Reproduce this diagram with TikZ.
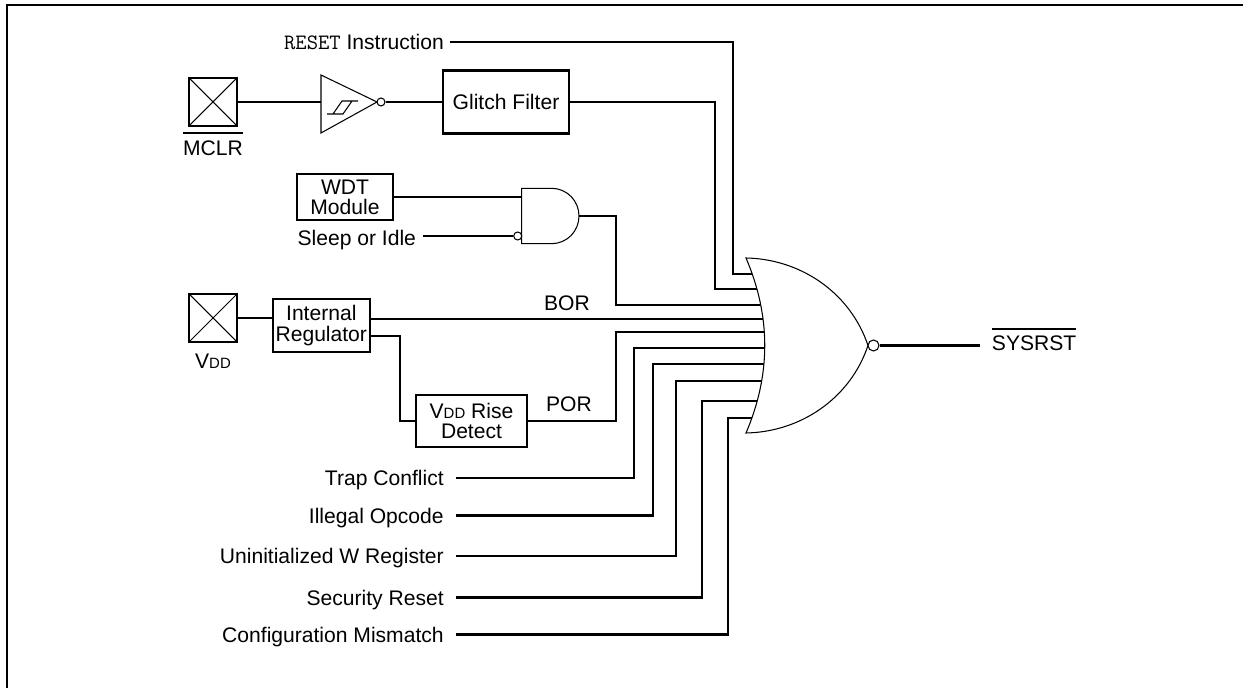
\documentclass[tikz,border=0pt]{standalone}
\usepackage{fontspec}
\setmainfont{Liberation Sans}
\usetikzlibrary{positioning}

\newcommand{\barsig}[1]{\vbox{\hrule height 1pt\kern 3.5pt\hbox{#1}}}
\newcommand{\vdd}{V{\fontsize{8.5}{8.5}\selectfont DD}}

\begin{document}
\begin{tikzpicture}[
  x=0.02cm, y=-0.02cm,
  font=\fontsize{12}{11.5}\selectfont,
  wire/.style={line width=1.2pt},
  box/.style={
    draw,
    line width=1.2pt,
    align=center,
    inner sep=1pt
  },
  pad/.style={
    draw,
    line width=1.2pt,
    minimum size=0.95cm,
    inner sep=0pt,
    path picture={
      \draw[line width=0.6pt]
        (path picture bounding box.north west) -- (path picture bounding box.south east)
        (path picture bounding box.north east) -- (path picture bounding box.south west);
    }
  },
  gate/.style={draw, line width=0.6pt, fill=white},
  bubble/.style={circle, draw, line width=0.6pt, fill=white, inner sep=0pt},
  sig/.style={inner sep=0pt, outer xsep=3.5pt, text height=8.6pt, text depth=0pt},
  cause/.style={sig, outer xsep=7pt, anchor=east}
]
\useasboundingbox (0,0) rectangle (1251,688);

% ================= frame =================
\draw[line width=1.2pt] (6.7,688) -- (6.7,5) -- (1243,5);

% ================= MCLR branch =================
\node[sig, anchor=east] (rst) at (450,42)
  {{\fontsize{12.5}{12}\ttfamily RESET} Instruction};

\node[pad] (mclrpad) at (213,102) {};
\node[inner sep=0pt, below=3pt of mclrpad] (mclr) {\barsig{MCLR}};

% Schmitt trigger input
\coordinate (bufin) at (321,102);
\draw[gate] (321,75) -- (377,102) -- (321,133) -- cycle;
\draw[line width=0.6pt] (327,114) -- (343,114) -- (352,101) -- (358,101)
  (333,114) -- (342,101) -- (352,101);
\node[bubble, minimum size=0.16cm] (bufbub) at (381,102) {};

\node[box, minimum width=2.52cm, minimum height=1.26cm] (glitch) at (506,102)
  {Glitch Filter};

\draw[wire] (mclrpad.east) -- (bufin);
\draw[wire] (bufbub.east) -- (glitch.west);

% ================= WDT branch =================
\node[box, minimum width=1.92cm, minimum height=0.92cm] (wdt) at (345,197)
  {WDT\\Module};
\node[sig, anchor=east, outer xsep=4pt] (sleep) at (423,237.5) {Sleep or Idle};

\draw[gate] (521.7,188.3) -- (551.5,188.3)
  .. controls (566.8,188.3) and (579,200.7) .. (579,216)
  .. controls (579,231.3) and (566.8,243.7) .. (551.5,243.7)
  -- (521.7,243.7) -- cycle;
\coordinate (anda) at (521.7,197);
\coordinate (andout) at (579,216);
\node[bubble, minimum size=0.16cm] (slpbub) at (517.7,236) {};

\draw[wire] (wdt.east) -- (anda);
\draw[wire] (sleep.east |- slpbub) -- (slpbub.west);

% ================= VDD branch =================
\node[pad] (vddpad) at (213,318) {};
\node[inner sep=0pt, below=6pt of vddpad] (vdd) {\vdd};

\node[box, minimum width=1.94cm, minimum height=1.06cm] (reg) at (321.3,325.5)
  {Internal\\Regulator};
\node[box, minimum width=2.22cm, minimum height=1.04cm] (rise) at (471.5,421)
  {\vdd{} Rise\\Detect};

\node (bor) at (567,303) {BOR};
\node (por) at (569,404) {POR};

\draw[wire] (vddpad.east) -- (vddpad.east -| reg.west);
\draw[wire] (reg.east |- 0,336) -| (400,0 |- rise.west) -- (rise.west);

% ================= other reset causes =================
\node[cause] (trap) at (456,478) {Trap Conflict};
\node[cause] (illegal) at (456,515.5) {Illegal Opcode};
\node[cause] (uninit) at (456,556) {Uninitialized W Register};
\node[cause] (secur) at (456,597.5) {Security Reset};
\node[cause] (config) at (456,634.5) {Configuration Mismatch};

% ================= reset OR gate =================
\foreach \n/\x/\y in {A/752.2/274, B/756.9/289, C/760.7/305, D/763.0/319,
    E/764.3/332, F/764.7/348, G/763.9/364, H/761.7/381, I/757.2/401, J/751.9/418}
  \coordinate (in\n) at (\x,\y);

\draw[wire] (rst.east) -| (733,0 |- inA) -- (inA);
\draw[wire] (glitch.east) -| (715,0 |- inB) -- (inB);
\draw[wire] (andout) -| (616,0 |- inC) -- (inC);
\draw[wire] (reg.east |- inD) -- (inD);
\draw[wire] (rise.east) -| (616,0 |- inE) -- (inE);
\draw[wire] (trap.east) -| (634,0 |- inF) -- (inF);
\draw[wire] (illegal.east) -| (653,0 |- inG) -- (inG);
\draw[wire] (uninit.east) -| (676,0 |- inH) -- (inH);
\draw[wire] (secur.east) -| (702,0 |- inI) -- (inI);
\draw[wire] (config.east) -| (728,0 |- inJ) -- (inJ);

\draw[gate] (746,258) .. controls (771,316.3) and (771,374.7) .. (746,433)
  .. controls (800,432) and (850,399) .. (868,345.5)
  .. controls (850,292) and (800,259) .. cycle;
\node[bubble, minimum size=0.22cm] (norbub) at (873.5,345.5) {};

\node[inner sep=0pt, outer xsep=6.8pt, anchor=base west] (sysrst) at (980,351)
  {\barsig{SYSRST}};
\draw[wire] (norbub.east) -- (norbub.east -| sysrst.west);

\end{tikzpicture}
\end{document}
